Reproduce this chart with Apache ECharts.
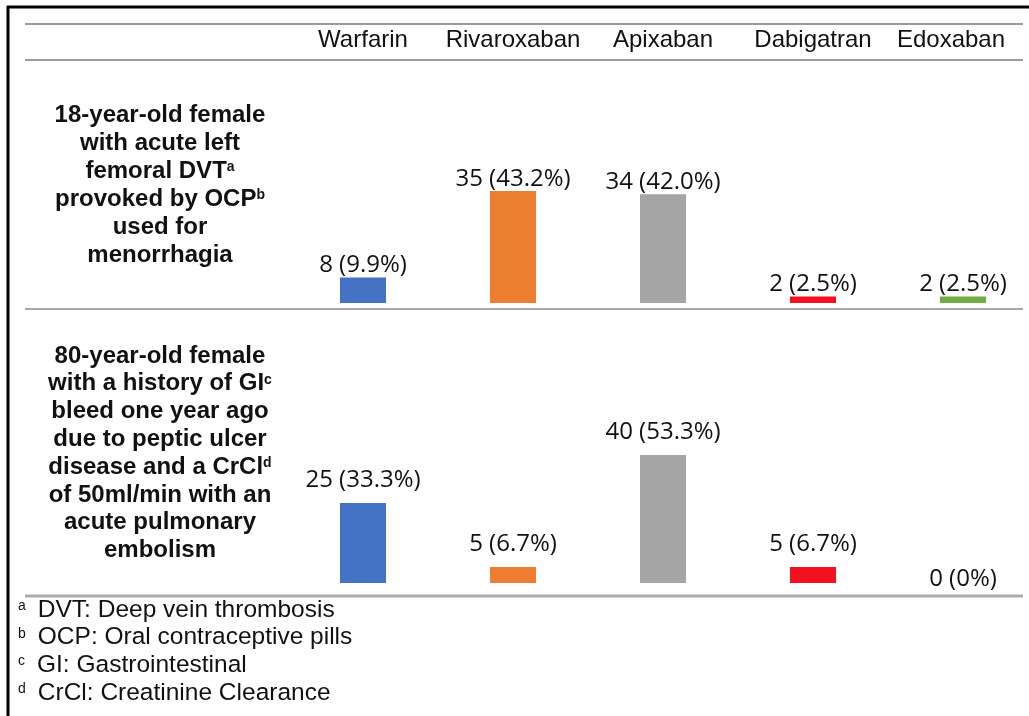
<!DOCTYPE html>
<html>
<head>
<meta charset="utf-8">
<title>Anticoagulant choice by case</title>
<script src="https://cdn.jsdelivr.net/npm/echarts@6/dist/echarts.min.js"></script>
<style>
  html, body { margin: 0; padding: 0; background: #fff; }
  #main { width: 1029px; height: 716px; }
</style>
</head>
<body>
<div id="main"></div>
<script>
// drugs (columns)
var drugs = ['Warfarin', 'Rivaroxaban', 'Apixaban', 'Dabigatran', 'Edoxaban'];
var drugColors = ['#4472C4', '#ED7D31', '#A5A5A5', '#F5101F', '#70AD47'];

// case 1: 18-year-old female
var youngCounts = [8, 35, 34, 2, 2];
var youngPct = ['9.9%', '43.2%', '42.0%', '2.5%', '2.5%'];

// case 2: 80-year-old female
var elderCounts = [25, 5, 40, 5, 0];
var elderPct = ['33.3%', '6.7%', '53.3%', '6.7%', '0%'];

var caseTexts = [
  '18-year-old female\nwith acute left\nfemoral DVT{s|a}\nprovoked by OCP{s|b}\nused for\nmenorrhagia',
  '80-year-old female\nwith a history of GI{s|c}\nbleed one year ago\ndue to peptic ulcer\ndisease and a CrCl{s|d}\nof 50ml/min with an\nacute pulmonary\nembolism'
];
var footnotes = [
  '{s|a}DVT: Deep vein thrombosis',
  '{s|b}OCP: Oral contraceptive pills',
  '{s|c}GI: Gastrointestinal',
  '{s|d}CrCl: Creatinine Clearance'
];

var myChart = echarts.init(document.getElementById('main'));

function barData(counts) {
  return counts.map(function (v, i) {
    var item = { value: v, itemStyle: { color: drugColors[i] } };
    if (v === 0) {
      item.label = { distance: -8 };  // keep the zero label on the baseline
    }
    return item;
  });
}

function barSeries(idx, counts, pct, dist) {
  return {
    type: 'bar',
    xAxisIndex: idx,
    yAxisIndex: idx,
    barWidth: 46,
    clip: false,
    silent: true,
    data: barData(counts),
    label: {
      show: true,
      position: 'top',
      distance: dist,
      fontFamily: 'Open Sans',
      fontSize: 24,
      color: '#111',
      formatter: function (p) {
        return p.value + ' (' + pct[p.dataIndex] + ')';
      }
    }
  };
}

var hidden = { show: false };
var lineStyleGray = { stroke: '#9a9a9a', lineWidth: 2 };

var option = {
  backgroundColor: '#fff',
  animation: false,
  grid: [
    { left: 363, right: 66, top: 143, height: 160 },
    { left: 363, right: 66, top: 423, height: 160 }
  ],
  xAxis: [
    {
      type: 'category', gridIndex: 0, data: drugs.map(function (d, i) {
        // the last header sits a little left of its bar in the source
        return i === drugs.length - 1 ? { value: d, textStyle: { padding: [0, 24, 0, 0] } } : d;
      }),
      position: 'top', boundaryGap: false,
      axisLine: hidden, axisTick: hidden, splitLine: hidden,
      axisLabel: {
        margin: 91, fontFamily: 'Liberation Sans', fontSize: 24, color: '#111',
        interval: 0
      }
    },
    {
      type: 'category', gridIndex: 1, data: drugs, boundaryGap: false,
      axisLine: hidden, axisTick: hidden, axisLabel: hidden, splitLine: hidden
    }
  ],
  yAxis: [
    { type: 'value', gridIndex: 0, min: 0, max: 50, show: false },
    { type: 'value', gridIndex: 1, min: 0, max: 50, show: false }
  ],
  series: [
    barSeries(0, youngCounts, youngPct, 0),
    barSeries(1, elderCounts, elderPct, 11)
  ],
  graphic: [
    // outer border (top and left)
    { type: 'line', shape: { x1: 7, y1: 7, x2: 1029, y2: 7 }, style: { stroke: '#000', lineWidth: 3 } },
    { type: 'line', shape: { x1: 8, y1: 6, x2: 8, y2: 716 }, style: { stroke: '#000', lineWidth: 3 } },
    // table rules
    { type: 'line', shape: { x1: 25, y1: 24, x2: 1023, y2: 24 }, style: lineStyleGray },
    { type: 'line', shape: { x1: 25, y1: 60, x2: 1023, y2: 60 }, style: lineStyleGray },
    { type: 'line', shape: { x1: 25, y1: 309, x2: 1023, y2: 309 }, style: { stroke: '#8a8a8a', lineWidth: 1.5 } },
    { type: 'line', shape: { x1: 25, y1: 596, x2: 1023, y2: 596 }, style: { stroke: '#aaaaaa', lineWidth: 3 } },
    // case descriptions
    {
      type: 'text', x: 160, y: 101,
      style: {
        text: caseTexts[0], align: 'center', verticalAlign: 'top',
        fontFamily: 'Liberation Sans', fontWeight: 'bold', fontSize: 24, lineHeight: 28, fill: '#111',
        rich: { s: { fontFamily: 'Liberation Sans', fontWeight: 'bold', fontSize: 14, lineHeight: 28, verticalAlign: 'top', padding: [3, 0, 0, 0] } }
      }
    },
    {
      type: 'text', x: 160, y: 342,
      style: {
        text: caseTexts[1], align: 'center', verticalAlign: 'top',
        fontFamily: 'Liberation Sans', fontWeight: 'bold', fontSize: 24, lineHeight: 27.8, fill: '#111',
        rich: { s: { fontFamily: 'Liberation Sans', fontWeight: 'bold', fontSize: 14, lineHeight: 27.8, verticalAlign: 'top', padding: [3, 0, 0, 0] } }
      }
    },
    // footnotes
    {
      type: 'text', x: 18, y: 596,
      style: {
        text: footnotes.join('\n'), align: 'left', verticalAlign: 'top',
        fontFamily: 'Liberation Sans', fontSize: 24.5, lineHeight: 27.7, fill: '#111',
        rich: { s: { fontFamily: 'Liberation Sans', fontSize: 14, lineHeight: 27.7, verticalAlign: 'top', padding: [3, 12, 0, 0] } }
      }
    }
  ]
};

myChart.setOption(option);
</script>
</body>
</html>
